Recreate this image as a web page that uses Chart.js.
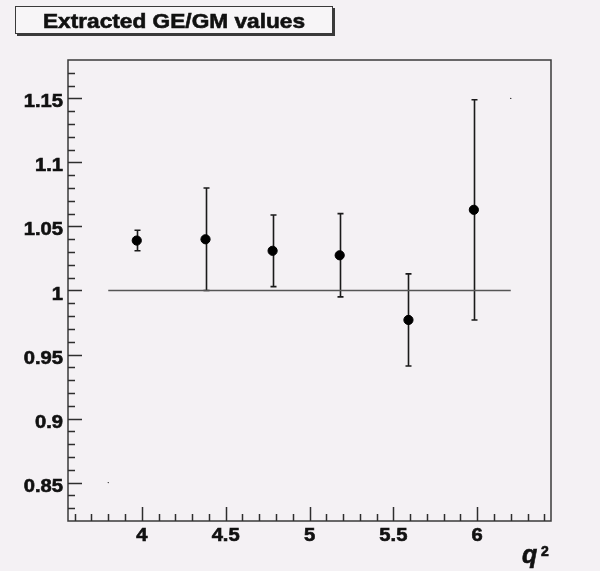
<!DOCTYPE html>
<html>
<head>
<meta charset="utf-8">
<script src="https://cdn.jsdelivr.net/npm/chart.js@4/dist/chart.umd.min.js"></script>
<style>
  html, body { margin: 0; padding: 0; background: #f4f1f4; }
  #wrap { width: 600px; height: 571px; }
</style>
</head>
<body>
<div id="wrap"><canvas id="chart" width="600" height="571"></canvas></div>
<script>
// measured points (q^2, GE/GM ratio, symmetric error)
const qSquared = [3.97, 4.38, 4.78, 5.18, 5.59, 5.98];
const ratio = [1.039, 1.040, 1.031, 1.0275, 0.977, 1.063];
const ratioErr = [0.008, 0.040, 0.028, 0.0325, 0.036, 0.086];

// reference line at 1 and the two stray frame dots
const refX = [3.8, 6.2];
const refY = [1, 1];
const strayX = [3.8, 6.2];
const strayY = [0.85, 1.15];

const xTickValues = [4, 4.5, 5, 5.5, 6];
const xTickLabels = ['4', '4.5', '5', '5.5', '6'];
const yTickValues = [0.85, 0.9, 0.95, 1, 1.05, 1.1, 1.15];
const yTickLabels = ['0.85', '0.9', '0.95', '1', '1.05', '1.1', '1.15'];

const titleText = 'Extracted GE/GM values';
const ink = '#2e2e2e';

// bold text, a bit wider and heavier, like the ROOT export
function stretchedText(ctx, text, x, y, sx, align) {
  ctx.save();
  ctx.translate(x, y);
  ctx.scale(sx, 1);
  ctx.textAlign = align;
  ctx.lineWidth = 0.6;
  ctx.strokeStyle = ctx.fillStyle;
  ctx.fillText(text, 0, 0);
  ctx.strokeText(text, 0, 0);
  ctx.restore();
}

const rootPlugin = {
  id: 'rootFrame',
  beforeDraw(chart) {
    const { ctx, width, height } = chart;
    ctx.save();
    ctx.fillStyle = '#f4f1f4';
    ctx.fillRect(0, 0, width, height);
    ctx.restore();
  },
  beforeDatasetsDraw(chart) {
    const { ctx } = chart;
    const xs = chart.scales.x;
    const ys = chart.scales.y;
    ctx.save();
    ctx.strokeStyle = '#1a1a1a';
    ctx.lineWidth = 1.6;
    qSquared.forEach((q, i) => {
      const px = Math.round(xs.getPixelForValue(q)) + 0.5;
      const top = ys.getPixelForValue(ratio[i] + ratioErr[i]);
      const bot = ys.getPixelForValue(ratio[i] - ratioErr[i]);
      ctx.beginPath();
      ctx.moveTo(px, top);
      ctx.lineTo(px, bot);
      ctx.moveTo(px - 3, top);
      ctx.lineTo(px + 3, top);
      ctx.moveTo(px - 3, bot);
      ctx.lineTo(px + 3, bot);
      ctx.stroke();
    });
    ctx.restore();
  },
  afterDraw(chart) {
    const { ctx, chartArea } = chart;
    const xs = chart.scales.x;
    const ys = chart.scales.y;
    const { left, right, top, bottom } = chartArea;

    ctx.save();
    // plot frame
    ctx.strokeStyle = '#3a3a3a';
    ctx.lineWidth = 1.5;
    ctx.strokeRect(left, top, right - left, bottom - top);

    // inward ticks, x axis
    ctx.strokeStyle = ink;
    ctx.lineWidth = 1.5;
    ctx.beginPath();
    for (let k = 36; k <= 64; k++) {
      const v = k / 10;
      const px = Math.round(xs.getPixelForValue(v)) + 0.5;
      const len = k % 5 === 0 ? 14 : 7;
      ctx.moveTo(px, bottom);
      ctx.lineTo(px, bottom - len);
    }
    // inward ticks, y axis
    for (let k = 83; k <= 117; k++) {
      const v = k / 100;
      const py = Math.round(ys.getPixelForValue(v)) + 0.5;
      const len = k % 5 === 0 ? 14 : 7;
      ctx.moveTo(left, py);
      ctx.lineTo(left + len, py);
    }
    ctx.stroke();

    // tick labels
    ctx.fillStyle = '#111';
    ctx.font = 'bold 18px "Liberation Sans", Arial, sans-serif';
    ctx.textBaseline = 'alphabetic';
    xTickValues.forEach((v, i) => {
      stretchedText(ctx, xTickLabels[i], xs.getPixelForValue(v), 541, 1.12, 'center');
    });
    yTickValues.forEach((v, i) => {
      stretchedText(ctx, yTickLabels[i], 63, ys.getPixelForValue(v) + 9, 1.12, 'right');
    });

    // axis title q^2
    ctx.font = 'bold italic 25px "Liberation Sans", Arial, sans-serif';
    stretchedText(ctx, 'q', 522, 563, 1, 'left');
    ctx.font = 'bold 14px "Liberation Sans", Arial, sans-serif';
    stretchedText(ctx, '2', 541, 556, 1, 'left');

    // title box with shadow
    ctx.fillStyle = '#3a3a3a';
    ctx.fillRect(17, 8, 318, 28);
    ctx.fillStyle = '#f7f5f7';
    ctx.fillRect(15, 6, 318, 28);
    ctx.strokeStyle = '#3a3a3a';
    ctx.lineWidth = 1;
    ctx.strokeRect(15.5, 6.5, 317, 27);
    ctx.fillStyle = '#111';
    ctx.font = 'bold 21px "Liberation Sans", Arial, sans-serif';
    stretchedText(ctx, titleText, 174, 28, 1.08, 'center');
    ctx.restore();
  }
};

new Chart(document.getElementById('chart'), {
  type: 'scatter',
  data: {
    datasets: [
      {
        label: 'GE/GM',
        data: qSquared.map((q, i) => ({ x: q, y: ratio[i] })),
        backgroundColor: '#000',
        borderColor: '#000',
        pointRadius: 4.6,
        pointHoverRadius: 4.6,
        showLine: false,
      },
      {
        label: 'one',
        data: refX.map((x, i) => ({ x, y: refY[i] })),
        borderColor: '#555',
        borderWidth: 1.6,
        pointRadius: 0,
        showLine: true,
      },
      {
        label: 'frame dots',
        data: strayX.map((x, i) => ({ x, y: strayY[i] })),
        backgroundColor: '#222',
        borderWidth: 0,
        pointRadius: 0.7,
        showLine: false,
      },
    ],
  },
  options: {
    responsive: false,
    animation: false,
    events: [],
    layout: { padding: { left: 68, right: 49, top: 60, bottom: 50 } },
    plugins: {
      legend: { display: false },
      tooltip: { enabled: false },
    },
    scales: {
      x: { type: 'linear', min: 3.56, max: 6.44, display: false },
      y: { type: 'linear', min: 0.82, max: 1.18, display: false },
    },
  },
  plugins: [rootPlugin],
});
</script>
</body>
</html>
